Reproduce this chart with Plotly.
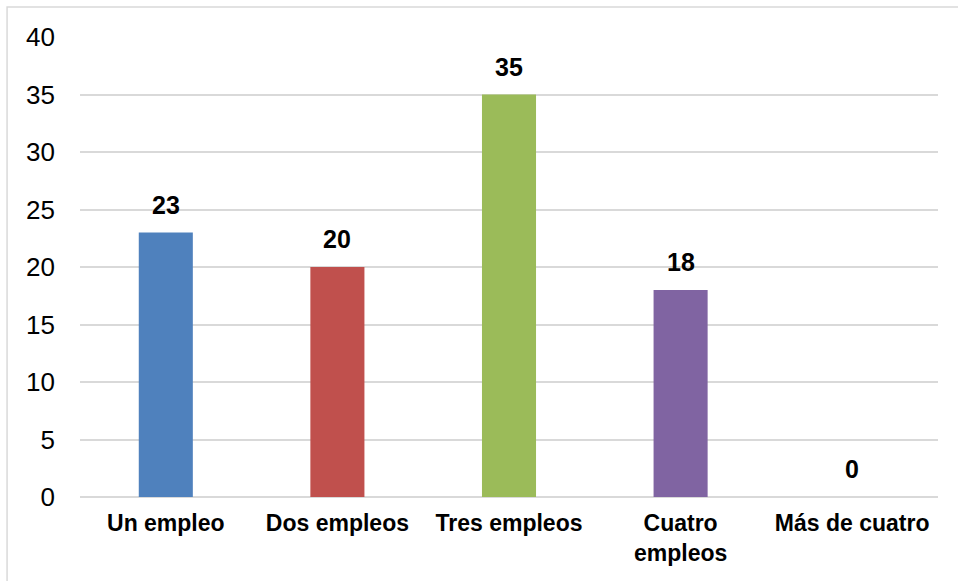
import plotly.graph_objects as go

categories = ["Un empleo", "Dos empleos", "Tres empleos", "Cuatro<br>empleos", "Más de cuatro"]
values = [23, 20, 35, 18, 0]
colors = ["#4F81BD", "#C0504D", "#9BBB59", "#8064A2", "#4BACC6"]
y_ticks = [0, 5, 10, 15, 20, 25, 30, 35, 40]

FONT = "Liberation Sans, Arial"

fig = go.Figure(
    go.Bar(
        x=categories,
        y=values,
        marker=dict(color=colors, line=dict(width=0)),
        width=0.315,
        hoverinfo="x+y",
    )
)

# value labels above each bar
for cat, val in zip(categories, values):
    fig.add_annotation(
        x=cat,
        y=val,
        text=f"<b>{val}</b>",
        showarrow=False,
        yanchor="bottom",
        yshift=12,
        font=dict(family=FONT, size=25, color="#000000"),
    )

fig.update_layout(
    width=958,
    height=581,
    margin=dict(l=80, r=20, t=37, b=84),
    paper_bgcolor="white",
    plot_bgcolor="white",
    showlegend=False,
    font=dict(family=FONT, color="#000000"),
    xaxis=dict(
        showgrid=False,
        showline=False,
        zeroline=False,
        ticks="",
        tickfont=dict(size=23, weight="bold"),
        ticklabelstandoff=10,
    ),
    yaxis=dict(
        range=[0, 40],
        tickvals=y_ticks,
        showgrid=True,
        gridcolor="#D9D9D9",
        gridwidth=1.5,
        zeroline=True,
        zerolinecolor="#D9D9D9",
        zerolinewidth=1.5,
        showline=False,
        ticks="",
        tickfont=dict(size=26),
        ticklabelstandoff=24,
    ),
    shapes=[
        dict(
            type="rect",
            xref="paper",
            yref="paper",
            x0=-0.085,
            x1=1.2,
            y0=-0.4,
            y1=1.065,
            line=dict(color="#D9D9D9", width=1.5),
            fillcolor="rgba(0,0,0,0)",
            layer="below",
        )
    ],
)

fig.write_html("out.html")
